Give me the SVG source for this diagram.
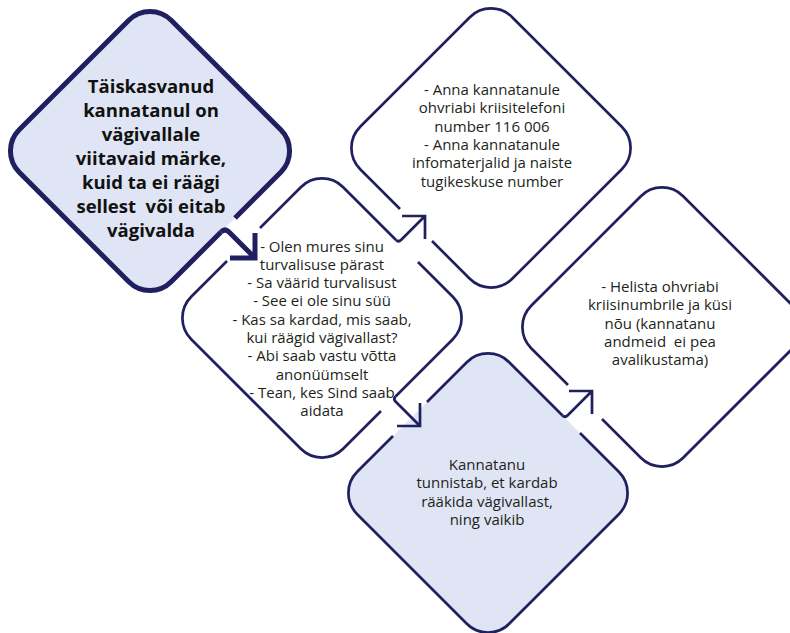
<svg xmlns="http://www.w3.org/2000/svg" width="790" height="633" viewBox="0 0 790 633">
<style>
.bg{fill:#ffffff}
.fillb{fill:#dfe5f4;stroke:none}
.fillw{fill:#ffffff;stroke:none}
.ol{fill:none;stroke:#201f5f;stroke-width:2.7;stroke-linejoin:miter}
.olt{fill:none;stroke:#201f5f;stroke-width:5;stroke-linejoin:miter}
.t{font-family:"Open Sans","Noto Sans","Liberation Sans",sans-serif;font-size:15px;fill:#231f20;text-anchor:middle}
.tb{font-family:"Open Sans","Noto Sans","Liberation Sans",sans-serif;font-size:18.5px;font-weight:bold;fill:#111111;text-anchor:middle}
</style>
<rect class="bg" x="0" y="0" width="790" height="633"/>

<g id="node1">
<path class="fillb" d="M128.8,20.2 A30,30 0 0 1 171.2,20.2 L280.8,129.8 A30,30 0 0 1 280.8,172.2 L171.2,281.8 A30,30 0 0 1 128.8,281.8 L19.2,172.2 A30,30 0 0 1 19.2,129.8 Z"/>
<path class="olt" d="M235,218 L280.8,172.2 A30,30 0 0 0 280.8,129.8 L171.2,20.2 A30,30 0 0 0 128.8,20.2 L19.2,129.8 A30,30 0 0 0 19.2,172.2 L128.8,281.8 A30,30 0 0 0 171.2,281.8 L221,232"/>
<text class="tb" xml:space="preserve"><tspan x="151" y="93">Täiskasvanud</tspan><tspan x="151" y="117">kannatanul on</tspan><tspan x="151" y="141">vägivallale</tspan><tspan x="151" y="165">viitavaid märke,</tspan><tspan x="151" y="189">kuid ta ei räägi</tspan><tspan x="151" y="213">sellest  või eitab</tspan><tspan x="151" y="237">vägivalda</tspan></text>
</g>

<g id="node2">
<path class="fillw" d="M300.8,187.2 A30,30 0 0 1 343.2,187.2 L452.8,296.8 A30,30 0 0 1 452.8,339.2 L343.2,448.8 A30,30 0 0 1 300.8,448.8 L191.2,339.2 A30,30 0 0 1 191.2,296.8 Z"/>
<path class="ol" d="M260,228 L300.8,187.2 A30,30 0 0 1 343.2,187.2 L396,240"/>
<path class="ol" d="M418,262 L452.8,296.8 A30,30 0 0 1 452.8,339.2 L395.5,396.5"/>
<path class="ol" d="M381,411 L343.2,448.8 A30,30 0 0 1 300.8,448.8 L191.2,339.2 A30,30 0 0 1 191.2,296.8 L227,261"/>
<text class="t"><tspan x="322" y="251.5">- Olen mures sinu</tspan><tspan x="322" y="269.8">turvalisuse pärast</tspan><tspan x="322" y="288.1">- Sa väärid turvalisust</tspan><tspan x="322" y="306.4">- See ei ole sinu süü</tspan><tspan x="322" y="324.7">- Kas sa kardad, mis saab,</tspan><tspan x="322" y="343">kui räägid vägivallast?</tspan><tspan x="322" y="361.3">- Abi saab vastu võtta</tspan><tspan x="322" y="379.6">anonüümselt</tspan><tspan x="322" y="397.9">- Tean, kes Sind saab</tspan><tspan x="322" y="416.2">aidata</tspan></text>
</g>

<g id="node3">
<path class="fillw" d="M469.8,17.2 A30,30 0 0 1 512.2,17.2 L621.8,126.8 A30,30 0 0 1 621.8,169.2 L512.2,278.8 A30,30 0 0 1 469.8,278.8 L360.2,169.2 A30,30 0 0 1 360.2,126.8 Z"/>
<path class="ol" d="M432,241 L469.8,278.8 A30,30 0 0 0 512.2,278.8 L621.8,169.2 A30,30 0 0 0 621.8,126.8 L512.2,17.2 A30,30 0 0 0 469.8,17.2 L360.2,126.8 A30,30 0 0 0 360.2,169.2 L400,209"/>
<text class="t"><tspan x="492" y="95">- Anna kannatanule</tspan><tspan x="492" y="113.3">ohvriabi kriisitelefoni</tspan><tspan x="492" y="131.6">number 116 006</tspan><tspan x="492" y="149.9">- Anna kannatanule</tspan><tspan x="492" y="168.2">infomaterjalid ja naiste</tspan><tspan x="492" y="186.5">tugikeskuse number</tspan></text>
</g>

<g id="node4">
<path class="fillw" d="M640.8,196.2 A30,30 0 0 1 683.2,196.2 L792.8,305.8 A30,30 0 0 1 792.8,348.2 L683.2,457.8 A30,30 0 0 1 640.8,457.8 L531.2,348.2 A30,30 0 0 1 531.2,305.8 Z"/>
<path class="ol" d="M602,419 L640.8,457.8 A30,30 0 0 0 683.2,457.8 L792.8,348.2 A30,30 0 0 0 792.8,305.8 L683.2,196.2 A30,30 0 0 0 640.8,196.2 L531.2,305.8 A30,30 0 0 0 531.2,348.2 L568,385"/>
<text class="t" xml:space="preserve"><tspan x="660" y="292">- Helista ohvriabi</tspan><tspan x="660" y="310.3">kriisinumbrile ja küsi</tspan><tspan x="660" y="328.6">nõu (kannatanu</tspan><tspan x="660" y="346.9">andmeid  ei pea</tspan><tspan x="660" y="365.2">avalikustama)</tspan></text>
</g>

<g id="node5">
<path class="fillb" d="M466.8,362.2 A30,30 0 0 1 509.2,362.2 L618.8,471.8 A30,30 0 0 1 618.8,514.2 L509.2,623.8 A30,30 0 0 1 466.8,623.8 L357.2,514.2 A30,30 0 0 1 357.2,471.8 Z"/>
<path class="ol" d="M427,402 L466.8,362.2 A30,30 0 0 1 509.2,362.2 L562.5,415.5"/>
<path class="ol" d="M580,433 L618.8,471.8 A30,30 0 0 1 618.8,514.2 L509.2,623.8 A30,30 0 0 1 466.8,623.8 L357.2,514.2 A30,30 0 0 1 357.2,471.8 L393,436"/>
<text class="t"><tspan x="487" y="470">Kannatanu</tspan><tspan x="487" y="488.3">tunnistab, et kardab</tspan><tspan x="487" y="506.6">rääkida vägivallast,</tspan><tspan x="487" y="524.9">ning vaikib</tspan></text>
</g>

<g id="connectors">
<path class="olt" d="M221,232 Q225,228 229,232 L255,258 M230,258 L255,258 L255,233"/>
<path class="ol" d="M396,240 Q398.5,242.5 401,240 L425,216 M402,216 L425,216 L425,239"/>
<path class="ol" d="M395.5,396.5 Q393,399 395.5,401.5 L420,426 M420,403 L420,426 L397,426"/>
<path class="ol" d="M562.5,415.5 Q565,418 567.5,415.5 L592,391 M569,391 L592,391 L592,414"/>
</g>
</svg>
